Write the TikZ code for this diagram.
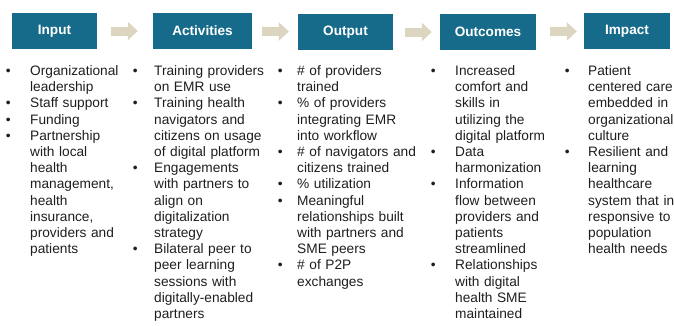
\documentclass[tikz,border=0pt]{standalone}
\usepackage{fontspec}
\setmainfont{Liberation Sans}
\usepackage{enumitem}
\usetikzlibrary{arrows.meta,positioning}
\definecolor{stagebg}{RGB}{23,107,138}
\definecolor{flowbg}{RGB}{220,213,191}
\definecolor{listtext}{RGB}{30,30,30}
\setlist[itemize]{nosep,leftmargin=22pt,labelwidth=0pt,label={\makebox[0pt]{\textbullet}}}

\begin{document}
\begin{tikzpicture}[x=1pt,y=-1pt,
    stage/.style={rectangle,fill=stagebg,text=white,inner sep=0pt,minimum height=36pt,
      font=\fontsize{13.6}{16}\selectfont\bfseries},
    flow/.style={draw=flowbg,line width=9pt,-{Triangle[length=10pt,width=18pt]}},
    outline/.style={anchor=north west,inner sep=0pt,text width=160pt,text=listtext,
      font=\fontsize{13.7}{16.2}\selectfont}]
\useasboundingbox (0,0) rectangle (674,325);
\node [stage,minimum width=85pt] (input) at (54.5,31) {Input};
\node [stage,minimum width=99pt] (activities) at (202.5,31) {Activities};
\node [stage,minimum width=95pt] (output) at (345.5,32) {Output};
\node [stage,minimum width=96pt] (outcomes) at (488,32) {Outcomes};
\node [stage,minimum width=86pt] (impact) at (627,31) {Impact};
\draw [flow,shorten <=14pt,shorten >=15pt] (input) -- (activities);
\draw [flow,shorten <=10pt,shorten >=9pt] (activities) -- (output);
\draw [flow,shorten <=12pt,shorten >=8pt] (output) -- (outcomes);
\draw [flow,shorten <=14pt,shorten >=7pt] (outcomes) -- (impact);
\node [outline] (inputlist) at (8,59) {%
  \begin{itemize}[labelsep=22pt]
    \item Organizational\\leadership
    \item Staff support
    \item Funding
    \item Partnership\\with local\\health\\management,\\health\\insurance,\\providers and\\patients
  \end{itemize}};
\node [outline] (activitylist) at (132,59) {%
  \begin{itemize}[labelsep=19pt]
    \item Training providers\\on EMR use
    \item Training health\\navigators and\\citizens on usage\\of digital platform
    \item Engagements\\with partners to\\align on\\digitalization\\strategy
    \item Bilateral peer to\\peer learning\\sessions with\\digitally-enabled\\partners
  \end{itemize}};
\node [outline] (outputlist) at (275,59) {%
  \begin{itemize}[labelsep=17pt]
    \item \# of providers\\trained
    \item \% of providers\\integrating EMR\\into workflow
    \item \# of navigators and\\citizens trained
    \item \% utilization
    \item Meaningful\\relationships built\\with partners and\\SME peers
    \item \# of P2P\\exchanges
  \end{itemize}};
\node [outline] (outcomelist) at (433,59) {%
  \begin{itemize}[labelsep=22pt]
    \item Increased\\comfort and\\skills in\\utilizing the\\digital platform
    \item Data\\harmonization
    \item Information\\flow between\\providers and\\patients\\streamlined
    \item Relationships\\with digital\\health SME\\maintained
  \end{itemize}};
\node [outline] (impactlist) at (566,59) {%
  \begin{itemize}[labelsep=21pt]
    \item Patient\\centered care\\embedded in\\organizational\\culture
    \item Resilient and\\learning\\healthcare\\system that in\\responsive to\\population\\health needs
  \end{itemize}};
\end{tikzpicture}
\end{document}
